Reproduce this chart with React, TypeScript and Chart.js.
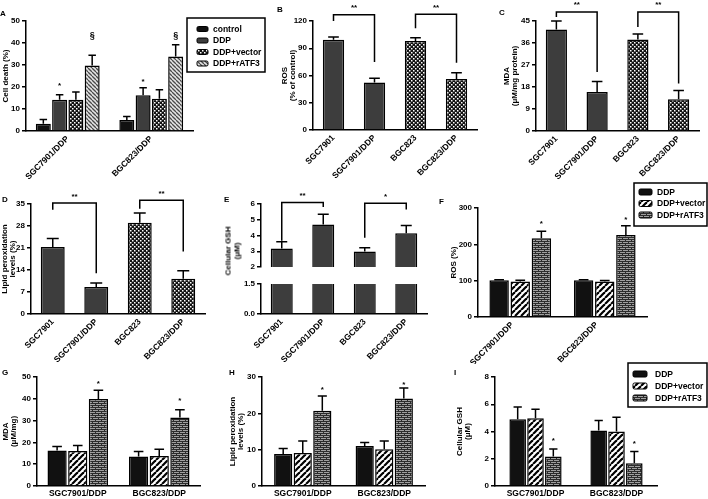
import React, { useEffect, useRef } from 'react';
import { Chart, registerables } from 'chart.js';

Chart.register(...registerables);

const FONT = '"Liberation Sans", Arial, Helvetica, sans-serif';

// ---------- categories ----------
const cellLines = ['SGC7901', 'SGC7901/DDP', 'BGC823', 'BGC823/DDP'];
const resistantLines = ['SGC7901/DDP', 'BGC823/DDP'];
const treatA = ['control', 'DDP', 'DDP+vector', 'DDP+rATF3'];
const treat3 = ['DDP', 'DDP+vector', 'DDP+rATF3'];

// ---------- A: cell death (%) ----------
const aControl = [3.3, 5.0];
const aControlSd = [1.9, 1.6];
const aDdp = [14.2, 16.2];
const aDdpSd = [2.3, 3.5];
const aVector = [14.2, 14.7];
const aVectorSd = [3.5, 4.1];
const aAtf3 = [29.8, 33.9];
const aAtf3Sd = [4.6, 5.3];
const aTicks = [0, 10, 20, 30, 40, 50];

// ---------- B: ROS (% of control) ----------
const bValues = [99.3, 52.4, 97.9, 56.1];
const bSd = [3.0, 4.5, 3.6, 7.0];
const bTicks = [0, 30, 60, 90, 120];

// ---------- C: MDA ----------
const cValues = [41.5, 16.0, 37.4, 13.0];
const cSd = [3.5, 4.3, 2.3, 3.6];
const cTicks = [0, 9, 18, 27, 36, 45];

// ---------- D: lipid peroxidation ----------
const dValues = [21.3, 8.6, 29.0, 11.2];
const dSd = [2.7, 1.3, 3.1, 2.6];
const dTicks = [0, 7, 14, 21, 28, 35];

// ---------- E: cellular GSH (broken axis) ----------
const eValues = [3.17, 4.7, 2.99, 4.14];
const eSd = [0.43, 0.65, 0.24, 0.5];
const eUpperTicks = [2, 3, 4, 5, 6];
const eLowerTicks = [0, 1.5];
const eLowerTickLabels = ['0.0', '1.5'];

// ---------- F: ROS (%) ----------
const fDdp = [100.9, 101.0];
const fDdpSd = [1.8, 1.8];
const fVector = [98.0, 98.0];
const fVectorSd = [3.0, 2.5];
const fAtf3 = [217, 226];
const fAtf3Sd = [19, 25];
const fTicks = [0, 100, 200, 300];

// ---------- G: MDA ----------
const gDdp = [16.3, 13.5];
const gDdpSd = [1.8, 2.3];
const gVector = [16.0, 13.8];
const gVectorSd = [2.6, 3.1];
const gAtf3 = [39.9, 31.4];
const gAtf3Sd = [4.0, 3.6];
const gTicks = [0, 10, 20, 30, 40, 50];

// ---------- H: lipid peroxidation ----------
const hDdp = [8.8, 11.0];
const hDdpSd = [1.5, 1.0];
const hVector = [9.1, 10.1];
const hVectorSd = [3.3, 2.3];
const hAtf3 = [20.7, 24.1];
const hAtf3Sd = [4.1, 2.9];
const hTicks = [0, 10, 20, 30];

// ---------- I: cellular GSH ----------
const iDdp = [4.9, 4.07];
const iDdpSd = [0.9, 0.73];
const iVector = [4.98, 4.0];
const iVectorSd = [0.66, 1.05];
const iAtf3 = [2.16, 1.67];
const iAtf3Sd = [0.56, 0.86];
const iTicks = [0, 2, 4, 6, 8];

// ---------- types ----------
type Series = { label: string; data: number[]; sd?: number[]; fill: string | string[] };
type Bracket = { from: number; to: number; top: number; left: number; right: number; text: string };
type Mark = { ds: number; i: number; y: number; text: string };
type Legend = { x: number; y: number; w: number; h: number; rows: number[]; swX: number; swW: number; swH: number; textX: number };
type PanelCfg = {
  id: string;
  box: [number, number, number, number];
  plot: [number, number, number, number];
  labels: string[];
  series: Series[];
  yMin: number;
  yMax: number;
  yTicks: number[];
  yTickLabels?: string[];
  yTitle?: string | string[];
  titleX?: number;
  xDisplay: boolean;
  rotation: number;
  labelOffset?: number;
  catPct: number;
  barPct: number;
  clip?: boolean;
  brackets?: Bracket[];
  marks?: Mark[];
  legend?: Legend;
};

const DARK = '#3d3d3d';

const panels: PanelCfg[] = [
  {
    id: 'A', box: [0, 0, 272, 184], plot: [26, 21, 193, 131],
    labels: resistantLines,
    series: [
      { label: treatA[0], data: aControl, sd: aControlSd, fill: '#111111' },
      { label: treatA[1], data: aDdp, sd: aDdpSd, fill: DARK },
      { label: treatA[2], data: aVector, sd: aVectorSd, fill: 'dots' },
      { label: treatA[3], data: aAtf3, sd: aAtf3Sd, fill: 'hatch' },
    ],
    yMin: 0, yMax: 50, yTicks: aTicks, yTitle: 'Cell death (%)', titleX: 6,
    xDisplay: true, rotation: 45, catPct: 0.78, barPct: 0.92,
    marks: [
      { ds: 1, i: 0, y: 21.5, text: '*' }, { ds: 1, i: 1, y: 23.5, text: '*' },
      { ds: 3, i: 0, y: 43.5, text: '§' }, { ds: 3, i: 1, y: 43.5, text: '§' },
    ],
    legend: { x: 187, y: 18, w: 78, h: 54, rows: [29, 40.5, 52, 63.5], swX: 197, swW: 11, swH: 5, textX: 213 },
  },
  {
    id: 'B', box: [279, 0, 206, 184], plot: [313, 21, 477, 130],
    labels: cellLines,
    series: [{ label: 'ROS', data: bValues, sd: bSd, fill: [DARK, DARK, 'dots', 'dots'] }],
    yMin: 0, yMax: 120, yTicks: bTicks, yTitle: ['ROS', '(% of control)'], titleX: 285,
    xDisplay: true, rotation: 45, catPct: 0.52, barPct: 1,
    brackets: [
      { from: 0, to: 1, top: 127, left: 120, right: 75, text: '**' },
      { from: 2, to: 3, top: 127.5, left: 112, right: 74, text: '**' },
    ],
  },
  {
    id: 'C', box: [500, 0, 208, 184], plot: [536, 21, 699, 131],
    labels: cellLines,
    series: [{ label: 'MDA', data: cValues, sd: cSd, fill: [DARK, DARK, 'dots', 'dots'] }],
    yMin: 0, yMax: 45, yTicks: cTicks, yTitle: ['MDA', '(μM/mg protein)'], titleX: 507,
    xDisplay: true, rotation: 45, catPct: 0.52, barPct: 1,
    brackets: [
      { from: 0, to: 1, top: 48.7, left: 46.6, right: 24.1, text: '**' },
      { from: 2, to: 3, top: 48.7, left: 42.5, right: 19.4, text: '**' },
    ],
  },
  {
    id: 'D', box: [0, 184, 225, 180], plot: [31, 204, 205, 314],
    labels: cellLines,
    series: [{ label: 'Lipid peroxidation', data: dValues, sd: dSd, fill: [DARK, DARK, 'dots', 'dots'] }],
    yMin: 0, yMax: 35, yTicks: dTicks, yTitle: ['Lipid peroxidation', 'levels (%)'], titleX: 5,
    xDisplay: true, rotation: 45, catPct: 0.55, barPct: 1,
    brackets: [
      { from: 0, to: 1, top: 35.3, left: 33.2, right: 13, text: '**' },
      { from: 2, to: 3, top: 36.2, left: 33.5, right: 19.9, text: '**' },
    ],
  },
  {
    id: 'E-top', box: [222, 185, 215, 100], plot: [261, 204, 427, 276],
    labels: cellLines,
    series: [{ label: 'Cellular GSH', data: eValues, sd: eSd, fill: DARK }],
    yMin: 2, yMax: 6, yTicks: eUpperTicks,
    xDisplay: false, rotation: 45, catPct: 0.53, barPct: 1,
    brackets: [
      { from: 0, to: 1, top: 6.1, left: 3.67, right: 5.81, text: '**' },
      { from: 2, to: 3, top: 6.05, left: 3.86, right: 5.65, text: '*' },
    ],
  },
  {
    id: 'E-bottom', box: [222, 277, 215, 87], plot: [261, 284, 427, 314],
    labels: cellLines,
    series: [{ label: 'Cellular GSH', data: eValues, fill: DARK }],
    yMin: 0, yMax: 1.5, yTicks: eLowerTicks, yTickLabels: eLowerTickLabels,
    xDisplay: true, rotation: 45, catPct: 0.53, barPct: 1, clip: true,
  },
  {
    id: 'F', box: [449, 178, 259, 186], plot: [478, 208, 647, 317],
    labels: resistantLines,
    series: [
      { label: treat3[0], data: fDdp, sd: fDdpSd, fill: '#111111' },
      { label: treat3[1], data: fVector, sd: fVectorSd, fill: 'stripes' },
      { label: treat3[2], data: fAtf3, sd: fAtf3Sd, fill: 'brick' },
    ],
    yMin: 0, yMax: 300, yTicks: fTicks, yTitle: 'ROS (%)', titleX: 454,
    xDisplay: true, rotation: 45, labelOffset: -8, catPct: 0.75, barPct: 0.92,
    marks: [{ ds: 2, i: 0, y: 264, text: '*' }, { ds: 2, i: 1, y: 275, text: '*' }],
    legend: { x: 634, y: 183, w: 73, h: 43, rows: [192, 203.5, 215], swX: 639, swW: 13, swH: 6, textX: 657 },
  },
  {
    id: 'G', box: [0, 364, 225, 135], plot: [37, 377, 200, 486],
    labels: resistantLines,
    series: [
      { label: treat3[0], data: gDdp, sd: gDdpSd, fill: '#111111' },
      { label: treat3[1], data: gVector, sd: gVectorSd, fill: 'stripes' },
      { label: treat3[2], data: gAtf3, sd: gAtf3Sd, fill: 'brick' },
    ],
    yMin: 0, yMax: 50, yTicks: gTicks, yTitle: ['MDA', '(μM/mg)'], titleX: 6,
    xDisplay: true, rotation: 0, catPct: 0.76, barPct: 0.93,
    marks: [{ ds: 2, i: 0, y: 48, text: '*' }, { ds: 2, i: 1, y: 40.3, text: '*' }],
  },
  {
    id: 'H', box: [228, 364, 215, 135], plot: [262, 377, 425, 486],
    labels: resistantLines,
    series: [
      { label: treat3[0], data: hDdp, sd: hDdpSd, fill: '#111111' },
      { label: treat3[1], data: hVector, sd: hVectorSd, fill: 'stripes' },
      { label: treat3[2], data: hAtf3, sd: hAtf3Sd, fill: 'brick' },
    ],
    yMin: 0, yMax: 30, yTicks: hTicks, yTitle: ['Lipid peroxidation', 'levels (%)'], titleX: 233,
    xDisplay: true, rotation: 0, catPct: 0.72, barPct: 0.93,
    marks: [{ ds: 2, i: 0, y: 27.1, text: '*' }, { ds: 2, i: 1, y: 28.6, text: '*' }],
  },
  {
    id: 'I', box: [455, 362, 253, 137], plot: [495, 377, 657, 486],
    labels: resistantLines,
    series: [
      { label: treat3[0], data: iDdp, sd: iDdpSd, fill: '#111111' },
      { label: treat3[1], data: iVector, sd: iVectorSd, fill: 'stripes' },
      { label: treat3[2], data: iAtf3, sd: iAtf3Sd, fill: 'brick' },
    ],
    yMin: 0, yMax: 8, yTicks: iTicks, yTitle: ['Cellular GSH', '(μM)'], titleX: 460,
    xDisplay: true, rotation: 0, catPct: 0.66, barPct: 0.93,
    marks: [{ ds: 2, i: 0, y: 3.5, text: '*' }, { ds: 2, i: 1, y: 3.26, text: '*' }],
    legend: { x: 628, y: 363, w: 79, h: 44, rows: [374, 386, 398], swX: 633, swW: 14, swH: 6, textX: 655 },
  },
];

const letters: [string, number, number][] = [
  ['A', 3, 14], ['B', 280, 10], ['C', 502, 13],
  ['D', 5, 200], ['E', 227, 200], ['F', 442, 202],
  ['G', 5, 373], ['H', 232, 373], ['I', 457, 373],
];

// ---------- fills ----------
function makeTile(kind: string): HTMLCanvasElement {
  const c = document.createElement('canvas');
  if (kind === 'dots') {
    c.width = 4; c.height = 4;
    const g = c.getContext('2d')!;
    g.fillStyle = '#121212'; g.fillRect(0, 0, 4, 4);
    g.fillStyle = '#ffffff';
    g.fillRect(0, 0, 1.5, 1.5); g.fillRect(2, 2, 1.5, 1.5);
  } else if (kind === 'hatch') {
    c.width = 4; c.height = 4;
    const g = c.getContext('2d')!;
    g.fillStyle = '#e4e4e4'; g.fillRect(0, 0, 4, 4);
    g.strokeStyle = '#4a4a4a'; g.lineWidth = 1.3;
    for (const k of [-4, 0, 4]) { g.beginPath(); g.moveTo(k, 0); g.lineTo(k + 4, 4); g.stroke(); }
  } else if (kind === 'stripes') {
    c.width = 6; c.height = 6;
    const g = c.getContext('2d')!;
    g.fillStyle = '#ffffff'; g.fillRect(0, 0, 6, 6);
    g.strokeStyle = '#000000'; g.lineWidth = 2.2;
    for (const k of [-6, 0, 6]) { g.beginPath(); g.moveTo(k, 6); g.lineTo(k + 6, 0); g.stroke(); }
  } else {
    c.width = 6; c.height = 4;
    const g = c.getContext('2d')!;
    g.fillStyle = '#2c2c2c'; g.fillRect(0, 0, 6, 4);
    g.fillStyle = '#a0a0a0';
    g.fillRect(0, 0, 5, 1); g.fillRect(0, 2, 2, 1); g.fillRect(3, 2, 3, 1);
  }
  return c;
}

function ChartPanel({ cfg }: { cfg: PanelCfg }) {
  const ref = useRef<HTMLCanvasElement>(null);
  const [bl, bt, bw, bh] = cfg.box;

  useEffect(() => {
    const canvas = ref.current!;
    const ctx0 = canvas.getContext('2d')!;
    const fill = (k: string): any => (k.startsWith('#') ? k : ctx0.createPattern(makeTile(k), 'repeat'));
    const [pl, pt, pr, pb] = cfg.plot;
    const font = { family: FONT, size: 8, weight: 'bold' as const };

    const overlay = {
      id: 'overlay',
      afterDatasetsDraw(chart: any) {
        const ctx = chart.ctx as CanvasRenderingContext2D;
        const ys = chart.scales.y;
        ctx.save();
        ctx.strokeStyle = '#000';
        ctx.lineWidth = 1.5;
        cfg.series.forEach((s, di) => {
          if (!s.sd) return;
          const meta = chart.getDatasetMeta(di);
          meta.data.forEach((bar: any, i: number) => {
            const y0 = ys.getPixelForValue(s.data[i]);
            const y1 = ys.getPixelForValue(s.data[i] + s.sd![i]);
            const hw = bar.width * 0.25;
            ctx.beginPath();
            ctx.moveTo(bar.x, y0); ctx.lineTo(bar.x, y1);
            ctx.moveTo(bar.x - hw, y1); ctx.lineTo(bar.x + hw, y1);
            ctx.stroke();
          });
        });
        ctx.restore();
      },
      afterDraw(chart: any) {
        const ctx = chart.ctx as CanvasRenderingContext2D;
        const ys = chart.scales.y;
        const xs = chart.scales.x;
        ctx.save();
        ctx.strokeStyle = '#000';
        ctx.fillStyle = '#000';
        ctx.lineWidth = 1.5;
        ctx.textAlign = 'center';
        ctx.textBaseline = 'alphabetic';
        (cfg.brackets || []).forEach((b) => {
          const x0 = xs.getPixelForValue(b.from);
          const x1 = xs.getPixelForValue(b.to);
          const yt = ys.getPixelForValue(b.top);
          ctx.beginPath();
          ctx.moveTo(x0, ys.getPixelForValue(b.left));
          ctx.lineTo(x0, yt);
          ctx.lineTo(x1, yt);
          ctx.lineTo(x1, ys.getPixelForValue(b.right));
          ctx.stroke();
          ctx.font = `bold 8px ${FONT}`;
          ctx.fillText(b.text, (x0 + x1) / 2, yt - 9 + 4.5);
        });
        (cfg.marks || []).forEach((m) => {
          const bar = chart.getDatasetMeta(m.ds).data[m.i];
          const cy = ys.getPixelForValue(m.y);
          if (m.text === '§') {
            ctx.font = `bold 9px ${FONT}`;
            ctx.fillText(m.text, bar.x, cy + 3);
          } else {
            ctx.font = `bold 8px ${FONT}`;
            ctx.fillText(m.text, bar.x, cy + 4.5);
          }
        });
        const L = cfg.legend;
        if (L) {
          const ox = bl, oy = bt;
          ctx.lineWidth = 1.5;
          ctx.strokeRect(L.x - ox, L.y - oy, L.w, L.h);
          cfg.series.forEach((s, k) => {
            const cy = L.rows[k] - oy;
            const x = L.swX - ox, y = cy - L.swH / 2, w = L.swW, h = L.swH, r = 1.5;
            ctx.beginPath();
            ctx.moveTo(x + r, y); ctx.lineTo(x + w - r, y); ctx.quadraticCurveTo(x + w, y, x + w, y + r);
            ctx.lineTo(x + w, y + h - r); ctx.quadraticCurveTo(x + w, y + h, x + w - r, y + h);
            ctx.lineTo(x + r, y + h); ctx.quadraticCurveTo(x, y + h, x, y + h - r);
            ctx.lineTo(x, y + r); ctx.quadraticCurveTo(x, y, x + r, y);
            ctx.closePath();
            ctx.fillStyle = fill(Array.isArray(s.fill) ? s.fill[0] : s.fill);
            ctx.fill();
            ctx.lineWidth = 1;
            ctx.stroke();
            ctx.fillStyle = '#000';
            ctx.font = `bold 8.5px ${FONT}`;
            ctx.textAlign = 'left';
            ctx.textBaseline = 'middle';
            ctx.fillText(s.label, L.textX - ox, cy + 0.5);
          });
        }
        ctx.restore();
      },
    };

    const chart = new Chart(canvas, {
      type: 'bar',
      data: {
        labels: cfg.labels,
        datasets: cfg.series.map((s) => ({
          label: s.label,
          data: s.data,
          backgroundColor: Array.isArray(s.fill) ? s.fill.map(fill) : fill(s.fill),
          borderColor: '#000',
          borderWidth: 1.5,
          borderSkipped: 'start',
          categoryPercentage: cfg.catPct,
          barPercentage: cfg.barPct,
          ...(cfg.clip ? { clip: 0 } : {}),
        })),
      } as any,
      options: {
        animation: false,
        responsive: false,
        maintainAspectRatio: false,
        events: [],
        layout: {
          padding: { left: 0, top: pt - bt, right: bl + bw - pr, bottom: cfg.xDisplay ? 0 : bt + bh - pb },
        },
        plugins: { legend: { display: false }, tooltip: { enabled: false } },
        scales: {
          x: {
            display: cfg.xDisplay,
            offset: true,
            grid: { display: false, drawTicks: false },
            border: { display: true, color: '#000', width: 1.5 },
            ticks: {
              color: '#000', font: { ...font, size: 8.5 }, minRotation: cfg.rotation, maxRotation: cfg.rotation,
              autoSkip: false, padding: 3, labelOffset: cfg.labelOffset || 0,
            },
            afterFit: (s: any) => { s.height = bt + bh - pb; },
          },
          y: {
            min: cfg.yMin,
            max: cfg.yMax,
            beginAtZero: false,
            grid: { display: true, drawOnChartArea: false, drawTicks: true, tickLength: 4, color: '#000', lineWidth: 1.5 },
            border: { display: true, color: '#000', width: 1.5 },
            ticks: {
              color: '#000', font, padding: 2,
              callback: (v: any, i: number) => (cfg.yTickLabels ? cfg.yTickLabels[i] : String(v)),
            },
            afterBuildTicks: (s: any) => { s.ticks = cfg.yTicks.map((v) => ({ value: v })); },
            title: cfg.yTitle
              ? {
                  display: true, text: cfg.yTitle, color: '#000',
                  font: { family: FONT, size: 8, weight: 'bold', lineHeight: 0.96 },
                  padding: { top: (cfg.titleX || bl) - bl - 3.84, bottom: 0 },
                }
              : { display: false },
            afterFit: (s: any) => { s.width = pl - bl; },
          },
        },
      } as any,
      plugins: [overlay],
    });
    return () => chart.destroy();
  }, [cfg]);

  return (
    <canvas
      ref={ref}
      width={bw}
      height={bh}
      style={{ position: 'absolute', left: bl, top: bt, width: bw, height: bh }}
    />
  );
}

export default function App() {
  return (
    <div style={{ position: 'absolute', left: 0, top: 0, width: 708, height: 499, background: '#fff', overflow: 'hidden' }}>
      {panels.map((p) => <ChartPanel key={p.id} cfg={p} />)}
      {letters.map(([t, x, y]) => (
        <div key={t} style={{ position: 'absolute', left: x - 3, top: y - 5, font: `bold 8px ${FONT}`, lineHeight: '10px', color: '#000' }}>{t}</div>
      ))}
      <div
        style={{
          position: 'absolute', left: 232.5, top: 251, transform: 'translate(-50%, -50%) rotate(-90deg)',
          font: `bold 8px ${FONT}`, lineHeight: '8.5px', textAlign: 'center', whiteSpace: 'nowrap', color: '#000',
        }}
      >
        Cellular GSH<br />(μM)
      </div>
    </div>
  );
}
